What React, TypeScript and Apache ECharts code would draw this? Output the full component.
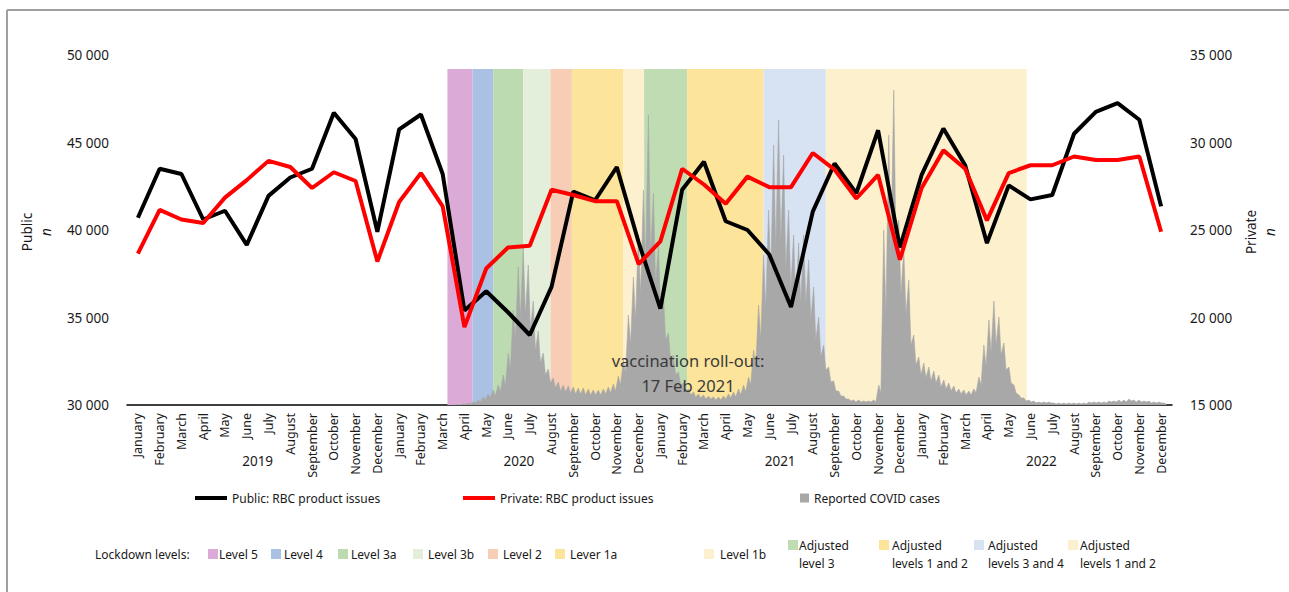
import React, { useEffect, useRef } from 'react';
import * as echarts from 'echarts';

const MONTHS = ['January', 'February', 'March', 'April', 'May', 'June', 'July', 'August', 'September', 'October', 'November', 'December'];
const YEARS = [2019, 2020, 2021, 2022];
const CATEGORIES = YEARS.flatMap((y) => MONTHS.map((m) => `${m} ${y}`));

const PUBLIC = [
  40700, 43500, 43200, 40600, 41100, 39150, 41950, 43000, 43500, 46700, 45200, 39900,
  45750, 46600, 43200, 35400, 36500, 35300, 34000, 36750, 42200, 41700, 43600, 39300,
  35500, 42300, 43900, 40500, 40000, 38600, 35600, 41050, 43800, 42100, 45700, 39000,
  43150, 45800, 43700, 39250, 42550, 41750, 42000, 45500, 46750, 47250, 46300, 41350,
];
const PRIVATE = [
  23650, 26150, 25600, 25400, 26850, 27850, 28950, 28600, 27400, 28300, 27800, 23200,
  26600, 28250, 26350, 19450, 22800, 24000, 24100, 27300, 27000, 26650, 26650, 23050,
  24350, 28500, 27600, 26500, 28050, 27450, 27450, 29400, 28450, 26800, 28150, 23300,
  27400, 29550, 28500, 25550, 28250, 28700, 28700, 29200, 29000, 29000, 29200, 24900,
];

// Reported COVID cases (weekly high and weekly low report), weeks starting 2020-03-30
const COVID_WEEK0 = Date.UTC(2020, 2, 30);
const COVID_HIGH = [
  0, 50, 100, 200, 300, 500, 800, 1100, 1500, 2000,
  3000, 5200, 9500, 13800, 15800, 14000, 10400, 7400, 5200, 3600,
  2700, 2300, 2000, 1900, 1800, 1700, 1700, 1600, 1500, 1500,
  1600, 1800, 2100, 2900, 4500, 9000, 12800, 17000, 21500, 29000,
  21200, 16000, 11000, 7200, 5000, 3300, 2200, 1600, 1300, 1100,
  1000, 900, 800, 800, 900, 1100, 1300, 1600, 2000, 2800,
  5500, 10000, 15000, 19500, 26000, 28500, 25000, 19500, 17000, 16200,
  17000, 14500, 11800, 8800, 6000, 3800, 2400, 1400, 900, 600,
  500, 500, 400, 400, 500, 2000, 17500, 27000, 31500, 18500,
  15500, 12500, 7000, 4800, 4200, 3800, 3400, 3000, 2500, 2200,
  1900, 1600, 1500, 1400, 1600, 2800, 6000, 8500, 10400, 8800,
  6200, 3800, 2000, 1000, 700, 500, 400, 300, 300, 300,
  200, 200, 200, 200, 200, 200, 200, 300, 300, 300,
  300, 400, 400, 500, 500, 600, 500, 500, 400, 400,
  300, 300, 200,
];
const COVID_LOW = [
  0, 0, 50, 100, 200, 300, 500, 700, 900, 1300,
  1900, 3500, 6500, 8500, 9000, 7500, 5500, 4200, 3000, 2200,
  1700, 1400, 1300, 1200, 1100, 1100, 1000, 1000, 1000, 1000,
  1100, 1200, 1400, 2000, 3200, 6000, 8500, 11000, 14000, 15000,
  12000, 9000, 6500, 4500, 3000, 2000, 1400, 1000, 800, 700,
  600, 600, 500, 500, 600, 700, 800, 1000, 1300, 2000,
  3800, 6500, 9500, 12500, 15500, 16000, 13500, 11500, 10000, 10000,
  10000, 8500, 6500, 4800, 3500, 2300, 1400, 900, 600, 400,
  300, 300, 300, 300, 300, 1200, 9000, 15000, 16000, 11000,
  9000, 6000, 4000, 3000, 2700, 2400, 2200, 1800, 1600, 1400,
  1200, 1100, 1000, 1000, 1200, 2000, 3800, 5200, 6000, 5000,
  3500, 2200, 1200, 700, 400, 300, 200, 200, 200, 200,
  100, 100, 100, 100, 100, 100, 100, 200, 200, 200,
  200, 300, 300, 300, 300, 400, 300, 300, 300, 200,
  200, 200, 100,
];

const BAND_NAMES = ['Level 5', 'Level 4', 'Level 3a', 'Level 3b', 'Level 2', 'Lever 1a', 'Level 1b', 'Adjusted\nlevel 3', 'Adjusted\nlevels 1 and 2', 'Adjusted\nlevels 3 and 4', 'Adjusted\nlevels 1 and 2'];
const BAND_STARTS = ['2020-03-24', '2020-04-28', '2020-05-27', '2020-07-08', '2020-08-15', '2020-09-14', '2020-11-25', '2020-12-24', '2021-02-22', '2021-06-09', '2021-09-04'];
const BAND_END = '2022-06-12';
const BAND_COLORS = ['#dcaad6', '#aac1e3', '#bddbb0', '#e3efda', '#f8cdb6', '#fde49b', '#fdf0cf', '#bfdcb2', '#fde49b', '#d7e2f3', '#fdf0cd'];
const BAND_TOP = 49200;

const FONT = 'Noto Sans';
const TXT = '#1a1a1a';

const W = 1289;
const H = 592;
const G_LEFT = 127;
const G_RIGHT = 117;
const G_TOP = 55;
const G_BOTTOM = 187;

const fmt = (v: number) => String(v).replace(/\B(?=(\d{3})+(?!\d))/g, ' ');
const ts = (d: string) => Date.parse(d + 'T00:00:00Z');

// lockdown legend layout (swatch x, text x)
const LL_POS = [[208, 219], [271, 284], [338, 351], [413, 428], [488, 503], [555, 570], [704, 720], [788, 799], [879, 892], [974, 988], [1068, 1080]];

export default function App() {
  const ref = useRef<HTMLDivElement>(null);
  useEffect(() => {
    if (!ref.current) return;
    const chart = echarts.init(ref.current, undefined, { renderer: 'svg' });

    const DAY = 86400000;
    const covidData: [number, number][] = [];
    COVID_HIGH.forEach((h, k) => {
      covidData.push([COVID_WEEK0 + (7 * k + 2) * DAY, h]);
      covidData.push([COVID_WEEK0 + (7 * k + 5) * DAY, COVID_LOW[k]]);
    });

    const bandData = BAND_STARTS.map((s, i) => [ts(s), i + 1 < BAND_STARTS.length ? ts(BAND_STARTS[i + 1]) : ts(BAND_END)]);

    const plotW = W - G_LEFT - G_RIGHT;
    const graphic: any[] = [];
    // frame
    graphic.push({ type: 'line', z: 50, shape: { x1: 7, y1: 10, x2: W, y2: 10 }, style: { stroke: '#a0a0a0', lineWidth: 2 } });
    graphic.push({ type: 'line', z: 50, shape: { x1: 7, y1: 10, x2: 7, y2: H }, style: { stroke: '#a0a0a0', lineWidth: 2 } });
    // years
    YEARS.forEach((y, j) => {
      graphic.push({
        type: 'text', z: 50, x: G_LEFT + (plotW * (6 + 12 * j)) / 48, y: 461,
        style: { text: String(y), fontSize: 13.5, fontFamily: FONT, fill: TXT, align: 'center', verticalAlign: 'middle' },
      });
    });
    // axis names
    const axName = (x: number, text: string, italic: boolean) => ({
      type: 'text', z: 50, x, y: 232, rotation: Math.PI / 2,
      style: { text, fontSize: 13.5, fontFamily: FONT, fontStyle: italic ? 'italic' : 'normal', fill: TXT, align: 'center', verticalAlign: 'middle' },
    });
    graphic.push(axName(27, 'Public', false), axName(46, 'n', true), axName(1251, 'Private', false), axName(1270, 'n', true));
    // vaccination annotation
    graphic.push({ type: 'text', z: 50, x: 688, y: 360, style: { text: 'vaccination roll-out:', fontSize: 16.5, fontFamily: FONT, fill: '#3a3a3a', align: 'center', verticalAlign: 'middle' } });
    graphic.push({ type: 'text', z: 50, x: 688, y: 385, style: { text: '17 Feb 2021', fontSize: 16.5, fontFamily: FONT, fill: '#3a3a3a', align: 'center', verticalAlign: 'middle' } });
    // lockdown legend
    graphic.push({ type: 'text', z: 50, x: 95, y: 554, style: { text: 'Lockdown levels:', fontSize: 12, fontFamily: FONT, fill: TXT, align: 'left', verticalAlign: 'middle' } });
    BAND_NAMES.forEach((name, i) => {
      const two = name.includes('\n');
      const [sx, tx] = LL_POS[i];
      graphic.push({ type: 'rect', z: 50, shape: { x: sx, y: two ? 540 : 549, width: 10, height: 10 }, style: { fill: BAND_COLORS[i] } });
      graphic.push({
        type: 'text', z: 50, x: tx, y: 554,
        style: { text: name, fontSize: 12, lineHeight: 18, fontFamily: FONT, fill: TXT, align: 'left', verticalAlign: 'middle' },
      });
    });

    const legendBase = {
      top: 492, padding: 0, selectedMode: false, icon: 'rect',
      textStyle: { fontSize: 12, fontFamily: FONT, color: TXT },
    };

    chart.setOption({
      animation: false,
      textStyle: { fontFamily: FONT },
      grid: { left: G_LEFT, right: G_RIGHT, top: G_TOP, bottom: G_BOTTOM, containLabel: false },
      legend: [
        { ...legendBase, left: 195, itemWidth: 32, itemHeight: 4, data: ['Public: RBC product issues'] },
        { ...legendBase, left: 463, itemWidth: 32, itemHeight: 4, data: ['Private: RBC product issues'] },
        { ...legendBase, left: 800, itemWidth: 9, itemHeight: 9, data: ['Reported COVID cases'] },
      ],
      xAxis: [
        {
          type: 'category', data: CATEGORIES, boundaryGap: true,
          axisLine: { lineStyle: { color: '#000', width: 1.5 } },
          axisTick: { show: false },
          axisLabel: { rotate: 90, interval: 0, fontSize: 12.5, color: TXT, margin: 8, formatter: (v: string) => v.split(' ')[0] },
          splitLine: { show: false },
        },
        { type: 'time', min: Date.UTC(2019, 0, 1), max: Date.UTC(2023, 0, 1), show: false },
      ],
      yAxis: [
        {
          type: 'value', position: 'left', min: 30000, max: 50000, interval: 5000,
          axisLine: { show: false }, axisTick: { show: false }, splitLine: { show: false },
          axisLabel: { fontSize: 13.5, color: TXT, margin: 18, formatter: fmt },
        },
        {
          type: 'value', position: 'right', min: 15000, max: 35000, interval: 5000,
          axisLine: { show: false }, axisTick: { show: false }, splitLine: { show: false },
          axisLabel: { fontSize: 13.5, color: TXT, margin: 18, formatter: fmt },
        },
        { type: 'value', min: 0, max: 35000, show: false },
      ],
      series: [
        {
          type: 'custom', name: 'Lockdown levels', xAxisIndex: 1, yAxisIndex: 0, z: 1, silent: true,
          data: bandData, encode: { x: [0, 1] },
          renderItem: (params: any, api: any) => {
            const a = api.coord([api.value(0), BAND_TOP]);
            const b = api.coord([api.value(1), 30000]);
            return { type: 'rect', shape: { x: a[0], y: a[1], width: b[0] - a[0], height: b[1] - a[1] }, style: { fill: BAND_COLORS[params.dataIndex] } };
          },
        },
        {
          type: 'line', name: 'Reported COVID cases', xAxisIndex: 1, yAxisIndex: 2, z: 2, silent: true,
          data: covidData, showSymbol: false, symbol: 'none',
          itemStyle: { color: '#a8a8a8' },
          lineStyle: { width: 0.6, color: '#a8a8a8' },
          areaStyle: { color: '#a8a8a8', opacity: 1 },
        },
        {
          type: 'line', name: 'Public: RBC product issues', xAxisIndex: 0, yAxisIndex: 0, z: 3,
          data: PUBLIC, symbol: 'none', color: '#000000', itemStyle: { color: '#000000' },
          lineStyle: { width: 4, color: '#000000' },
        },
        {
          type: 'line', name: 'Private: RBC product issues', xAxisIndex: 0, yAxisIndex: 1, z: 4,
          data: PRIVATE, symbol: 'none', color: '#ff0000', itemStyle: { color: '#ff0000' },
          lineStyle: { width: 4, color: '#ff0000' },
        },
      ],
      graphic,
    });
    return () => chart.dispose();
  }, []);
  return <div ref={ref} style={{ position: 'fixed', left: 0, top: 0, width: W, height: H, background: '#fff' }} />;
}
